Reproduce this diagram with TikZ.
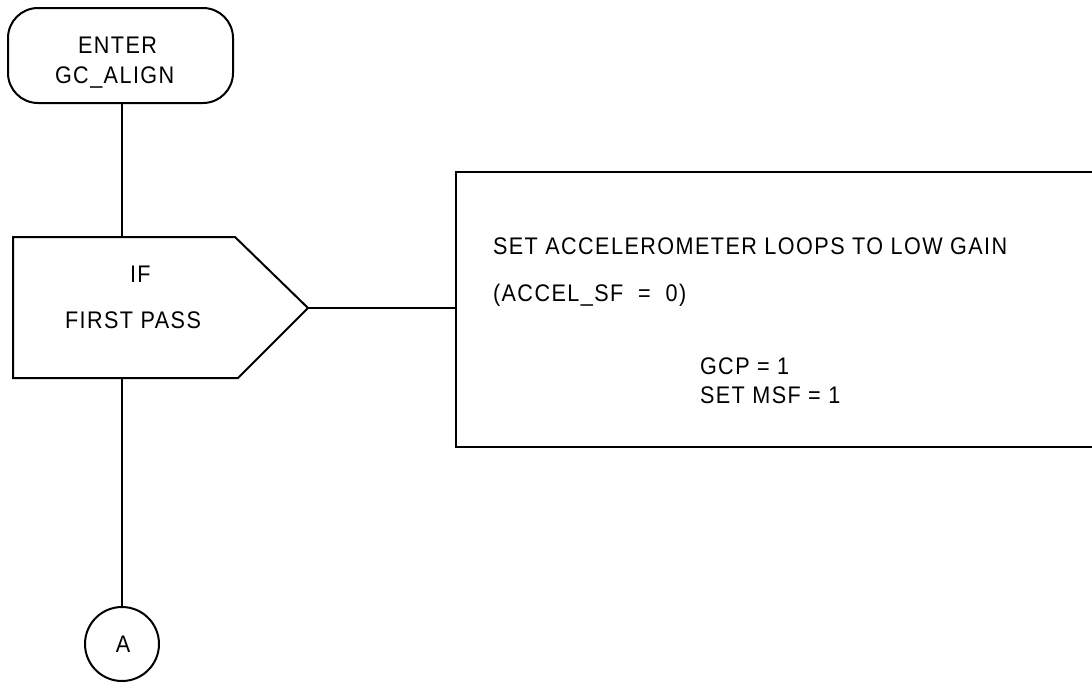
\documentclass[tikz,border=0pt]{standalone}
\usepackage{fontspec}
\setmainfont{Liberation Sans}[FakeStretch=0.9,LetterSpace=6]
\begin{document}
\begin{tikzpicture}[x=1pt,y=-1pt,
  every node/.style={inner sep=0pt,outer sep=0pt},
  shapeline/.style={draw=black,line width=2pt},
  conn/.style={draw=black,line width=2pt},
  txt/.style={font=\fontsize{24}{28}\selectfont,anchor=base west}]
\useasboundingbox (0,0) rectangle (1092,683);
% nodes
\node[shapeline,rectangle,rounded corners=30pt,minimum width=225pt,minimum height=95pt] (term) at (120.5,55.5) {};
\node[txt] (t1) at (78,53) {ENTER};
\node[txt] (t2) at (55,83) {GC\_ALIGN};
\coordinate (decTop) at (122,237);
\coordinate (decBot) at (122,378);
\coordinate (decTip) at (308,308);
\node[shapeline,circle,minimum size=74pt] (circA) at (122,644) {};
\node[font=\fontsize{24}{28}\selectfont] (a) at (123,644) {A};
% connectors (vertical trunk behind decision)
\draw[conn] (term.south -| decTop) -- (decTop);
\draw[conn] (decBot) -- (circA.north);
% decision shape
\draw[shapeline,fill=white,line join=miter] (13,237) -- (decTop) -- (235,237) -- (decTip) -- (238,378) -- (decBot) -- (13,378) -- cycle;
\node[txt] (if) at (130,282) {IF};
\node[txt] (fp) at (65,328) {FIRST PASS};
% action box (right side runs off the page)
\coordinate (boxW) at (456,308);
\draw[shapeline] (1093,172) -- (456,172) -- (456,447) -- (1093,447);
\draw[conn] (decTip) -- (boxW);
\node[txt] (l1) at (493,254) {SET ACCELEROMETER LOOPS TO LOW GAIN};
\node[txt] (l2) at (493,301) {(ACCEL\_SF\ \ =\ \ 0)};
\node[txt] (l3) at (700,374) {GCP = 1};
\node[txt] (l4) at (700,403) {SET MSF = 1};
\end{tikzpicture}
\end{document}
